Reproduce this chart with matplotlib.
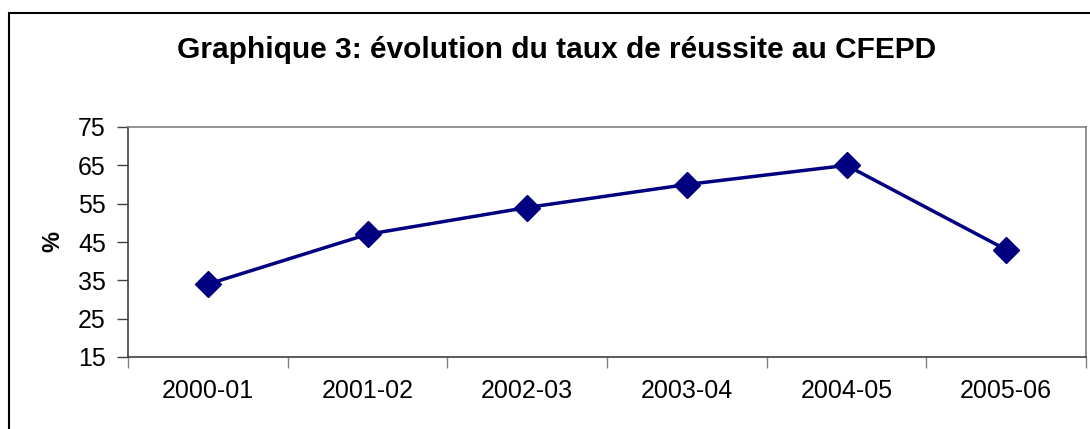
import matplotlib
matplotlib.use("Agg")
import matplotlib.pyplot as plt
from matplotlib.patches import Rectangle

plt.rcParams['font.family'] = ['Liberation Sans', 'DejaVu Sans']

# Data
years = ["2000-01", "2001-02", "2002-03", "2003-04", "2004-05", "2005-06"]
taux = [34, 47, 54, 60, 65, 43]
yticks = [15, 25, 35, 45, 55, 65, 75]

fig = plt.figure(figsize=(10.9, 4.29), dpi=100)
ax = fig.add_axes([128 / 1090, 72 / 429, 958 / 1090, 230 / 429])

x = list(range(len(years)))
ax.plot(x, taux, color="#000080", linewidth=2.5, marker="D", markersize=13,
        markerfacecolor="#000080", markeredgecolor="#000080")

ax.set_xlim(-0.5, len(years) - 0.5)
ax.set_ylim(15, 75)
ax.set_yticks(yticks)
ax.set_yticklabels([str(v) for v in yticks], fontsize=18)
ax.set_xticks(x)
ax.set_xticklabels(years, fontsize=18)
ax.tick_params(axis="x", length=0, pad=16)
ax.set_xticks([i - 0.5 for i in range(len(years) + 1)], minor=True)
ax.tick_params(axis="x", which="minor", length=8, width=1, color="#808080")
ax.tick_params(axis="y", length=8, width=1, color="#404040", pad=8)

for side in ["left", "bottom"]:
    ax.spines[side].set_color("#404040")
    ax.spines[side].set_linewidth(1.2)
for side in ["top", "right"]:
    ax.spines[side].set_color("#808080")
    ax.spines[side].set_linewidth(1.2)

ax.set_ylabel("%", fontsize=17, fontweight="bold")
ax.yaxis.set_label_coords((64 - 128) / 958, 0.5)

fig.text(557 / 1090, 1 - 50 / 429, "Graphique 3: évolution du taux de réussite au CFEPD",
         ha="center", va="center", fontsize=21.5, fontweight="bold")

# outer chart frame
fig.patches.append(Rectangle((9 / 1090, -0.1), 1.2, 1.1 - 13 / 429,
                             transform=fig.transFigure, fill=False,
                             edgecolor="black", linewidth=1.5))

fig.savefig("out.png", dpi=100)
